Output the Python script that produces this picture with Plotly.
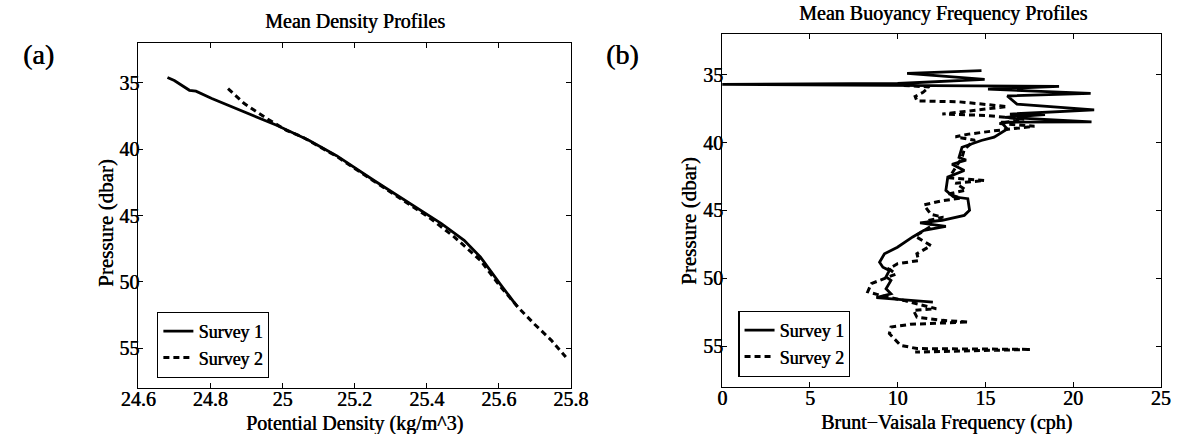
import plotly.graph_objects as go

# ---------------- data: panel (a) mean density profiles ----------------
s1_density = [24.681, 24.70, 24.742, 24.76, 24.804, 24.894, 24.984, 25.073, 25.15, 25.253,
              25.33, 25.396, 25.441, 25.504, 25.549, 25.603, 25.652]
s1_density_p = [34.62, 34.85, 35.58, 35.65, 36.2, 37.21, 38.21, 39.34, 40.5, 42.35,
                43.7, 44.86, 45.61, 46.87, 48.12, 50.12, 51.88]
s2_density = [24.849, 24.894, 24.957, 25.011, 25.055, 25.15, 25.253, 25.33, 25.405, 25.477,
              25.549, 25.603, 25.657, 25.70, 25.746, 25.786]
s2_density_p = [35.45, 36.58, 37.71, 38.59, 39.09, 40.55, 42.4, 43.8, 45.11, 46.62,
                48.37, 50.3, 52.0, 53.2, 54.39, 55.65]

# ---------------- data: panel (b) buoyancy frequency profiles ----------------
s1_bv = [14.78, 10.54, 12.4, 14.96, 10.0, 0.0, 19.2, 15.15, 21.0, 16.25, 16.8, 21.2, 16.4, 18.4,
         16.1, 21.05, 15.9, 16.25, 15.5, 14.77, 13.67, 13.5, 13.9, 13.1, 13.8, 12.86, 12.75,
         13.17, 14.0, 14.1, 13.8, 12.54, 11.28, 12.75, 11.5, 10.86, 9.99, 9.25, 8.97, 9.16,
         9.53, 9.34, 9.62, 9.34, 9.62, 8.79, 12.01]
s1_bv_p = [34.70, 34.90, 35.08, 35.35, 35.65, 35.72, 35.86, 36.07, 36.37, 36.57, 37.17, 37.6,
           37.9, 37.95, 38.14, 38.48, 38.5, 39.0, 39.6, 39.85, 40.35, 41.1, 41.3, 41.6, 42.06,
           42.55, 43.53, 44.0, 44.14, 45.0, 45.37, 45.73, 45.93, 46.18, 46.47, 46.96, 47.72,
           48.2, 48.82, 49.19, 49.43, 49.9, 50.17, 50.78, 51.15, 51.44, 51.76]
s2_bv = [10.35, 11.8, 11.45, 11.0, 11.1, 13.5, 16.25, 12.55, 15.0, 17.2, 15.8, 17.8, 15.5, 14.04,
         13.3, 14.4, 13.8, 13.67, 13.3, 12.94, 14.95, 13.3, 13.9, 12.9, 13.6, 12.5, 11.5, 11.9,
         12.6, 11.6, 12.0, 11.0, 11.9, 11.1, 11.2, 10.0, 9.5, 9.9, 8.5, 8.3, 9.1, 10.35, 12.2,
         10.9, 11.1, 12.57, 14.04, 10.72, 9.62, 9.53, 10.17, 11.1, 17.6, 11.0]
s2_bv_p = [35.8, 35.9, 36.3, 36.6, 36.93, 37.0, 37.35, 37.9, 38.0, 38.28, 38.6, 38.8, 39.14,
           39.38, 39.58, 39.83, 40.5, 41.1, 41.85, 42.6, 42.8, 43.0, 43.5, 43.8, 44.1, 44.3,
           44.6, 45.3, 45.5, 45.8, 46.1, 46.9, 47.6, 48.2, 48.7, 48.94, 49.3, 49.7, 50.4, 51.0,
           51.3, 51.64, 52.25, 52.38, 52.87, 53.11, 53.23, 53.4, 53.6, 54.09, 54.95, 55.19,
           55.25, 55.45]

series_names = ["Survey 1", "Survey 2"]
p_ticks = [35, 40, 45, 50, 55]
p_range = [58, 32]
density_ticks = [24.6, 24.8, 25.0, 25.2, 25.4, 25.6, 25.8]
density_ticklabels = ["24.6", "24.8", "25", "25.2", "25.4", "25.6", "25.8"]
bv_ticks = [0, 5, 10, 15, 20, 25]

FONT = "Liberation Serif, Times New Roman, serif"
SHADOW = "0.5px 0 0 #000"
W, H = 1196, 434

def f(size):
    return dict(family=FONT, size=size, color="black", shadow=SHADOW)

fig = go.Figure()
solid = dict(color="black", width=2.8)
dashed = dict(color="black", width=3, dash="6px,4px")

fig.add_trace(go.Scatter(x=s1_density, y=s1_density_p, mode="lines", line=solid,
                         name=series_names[0], xaxis="x", yaxis="y", legend="legend"))
fig.add_trace(go.Scatter(x=s2_density, y=s2_density_p, mode="lines", line=dashed,
                         name=series_names[1], xaxis="x", yaxis="y", legend="legend"))
fig.add_trace(go.Scatter(x=s1_bv, y=s1_bv_p, mode="lines", line=solid,
                         name=series_names[0], xaxis="x2", yaxis="y2", legend="legend2"))
fig.add_trace(go.Scatter(x=s2_bv, y=s2_bv_p, mode="lines", line=dashed,
                         name=series_names[1], xaxis="x2", yaxis="y2", legend="legend2"))

axis_common = dict(showline=True, linecolor="black", linewidth=1.2, mirror="ticks",
                   ticks="inside", ticklen=5, tickwidth=1.2, tickcolor="black",
                   showgrid=False, zeroline=False, tickfont=f(20))

xa_dom = [124 / W, 570 / W]
xb_dom = [726 / W, 1178.3 / W]
ya_dom = [1 - 388.3 / H, 1 - 42.7 / H]
yb_dom = [1 - 386.7 / H, 1 - 34 / H]

legend_common = dict(xanchor="left", yanchor="top", bordercolor="black", borderwidth=1.2,
                     bgcolor="white", font=f(18), tracegroupgap=0, itemwidth=30)

fig.update_layout(
    width=W, height=H,
    margin=dict(l=0, r=0, t=0, b=0),
    paper_bgcolor="white", plot_bgcolor="white",
    xaxis=dict(domain=xa_dom, range=[24.6, 25.8], tickvals=density_ticks,
               ticktext=density_ticklabels, anchor="y", ticklabelstandoff=-7, **axis_common),
    yaxis=dict(domain=ya_dom, range=p_range, tickvals=p_ticks, anchor="x",
               ticklabelstandoff=-6, **axis_common),
    xaxis2=dict(domain=xb_dom, range=[0, 25], tickvals=bv_ticks, anchor="y2",
                ticklabelstandoff=-7, **axis_common),
    yaxis2=dict(domain=yb_dom, range=p_range, tickvals=p_ticks, anchor="x2",
                ticklabelstandoff=-6, **axis_common),
    legend=dict(x=143.5 / W, y=1 - 311.7 / H, **legend_common),
    legend2=dict(x=742.7 / W, y=1 - 310.7 / H, **legend_common),
    showlegend=True,
)

def ann(text, x, y, size=20, angle=0):
    fig.add_annotation(text=text, x=x, y=y, xref="paper", yref="paper",
                       xanchor="center", yanchor="middle", showarrow=False,
                       textangle=angle, font=f(size))

ann("Mean Density Profiles", 347 / W, 1 - 21.7 / H)
ann("Mean Buoyancy Frequency Profiles", 954 / W, 1 - 13.3 / H)
ann("(a)", 21 / W, 1 - 55 / H, size=28)
ann("(b)", 623 / W, 1 - 55 / H, size=28)
ann("Potential Density (kg/m^3)", 347 / W, 1 - 423.5 / H)
ann("Brunt\u2212Vaisala Frequency (cph)", 957 / W, 1 - 422.5 / H)
ann("Pressure (dbar)", 90.7 / W, 1 - 223 / H, size=21, angle=-90)
ann("Pressure (dbar)", 691.8 / W, 1 - 221 / H, size=21, angle=-90)

fig.write_html("out.html")
